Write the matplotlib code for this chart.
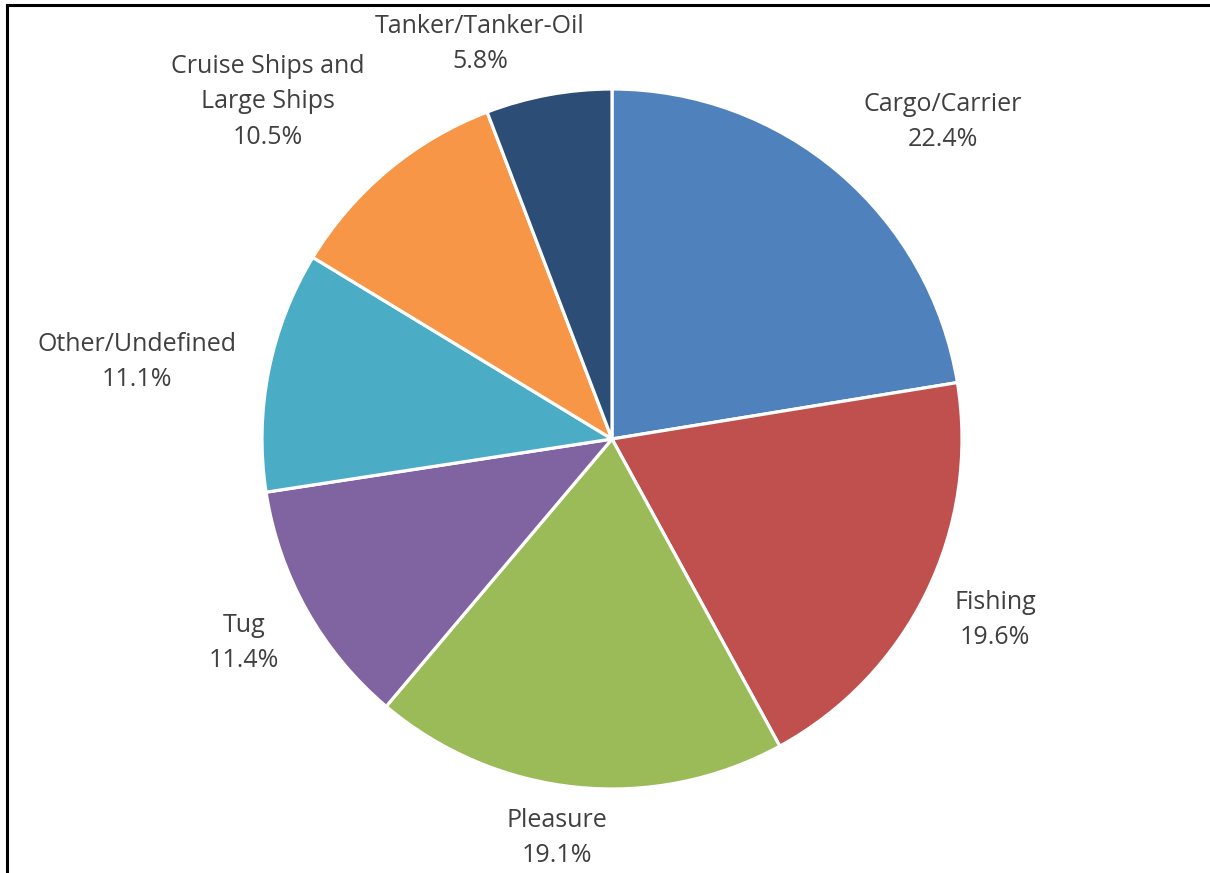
import matplotlib.pyplot as plt
from matplotlib.lines import Line2D

# Share of vessel types
categories = ["Cargo/Carrier", "Fishing", "Pleasure", "Tug", "Other/Undefined",
              "Cruise Ships and\nLarge Ships", "Tanker/Tanker-Oil"]
shares = [22.4, 19.6, 19.1, 11.4, 11.1, 10.5, 5.8]
colors = ["#4F81BD", "#C0504D", "#9BBB59", "#8064A2", "#4BACC6", "#F79646", "#2C4D75"]

# label centres (pie radius = 1)
label_pos = [(0.946, 0.906), (1.094, -0.517), (-0.157, -1.14), (-1.051, -0.583),
             (-1.357, 0.22), (-0.983, 0.963), (-0.377, 1.129)]

fig = plt.figure(figsize=(12.1, 8.73), dpi=100)
fig.patch.set_facecolor('white')

# chart border (only left and top edges visible)
fig.add_artist(Line2D([6.5 / 1210, 6.5 / 1210], [0, 1 - 4.5 / 873], color='black', lw=2.2,
                      transform=fig.transFigure))
fig.add_artist(Line2D([6.5 / 1210, 1], [1 - 4.5 / 873, 1 - 4.5 / 873], color='black', lw=2.2,
                      transform=fig.transFigure))

ax = fig.add_axes([262 / 1210, 84 / 873, 700 / 1210, 700 / 873])
wedges, _ = ax.pie(shares, colors=colors, startangle=90, counterclock=False, radius=1,
                   wedgeprops=dict(edgecolor='white', linewidth=2.3))

for name, val, (x, y) in zip(categories, shares, label_pos):
    ax.text(x, y, "%s\n%.1f%%" % (name, val), ha='center', va='center',
            fontsize=18, color='#404040', family='Open Sans', linespacing=1.55,
            clip_on=False)

ax.set_xlim(-1, 1)
ax.set_ylim(-1, 1)
ax.set_aspect('equal')
ax.axis('off')

fig.savefig('out.png', dpi=100)
